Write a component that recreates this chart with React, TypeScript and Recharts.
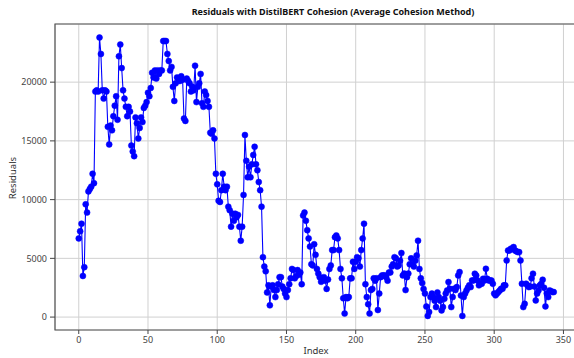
import { LineChart, Line, XAxis, YAxis, CartesianGrid, ReferenceArea } from "recharts";

// residual per row index
const residuals = [
  6700, 7300, 7950, 3500, 4250, 9600, 8900, 10700, 10900, 11100,
  12200, 11400, 19200, 19300, 19200, 23800, 22400, 19300, 18600, 19300,
  19200, 16200, 14700, 16300, 15900, 17100, 18000, 18800, 16800, 22200,
  23200, 21200, 19300, 18600, 17900, 17100, 17900, 17500, 14600, 14100,
  13700, 17000, 16500, 15200, 16100, 17000, 16600, 17800, 18000, 18300,
  19100, 18800, 19500, 20800, 20400, 21000, 20300, 21000, 20700, 21000,
  21000, 23500, 23500, 23500, 22400, 21800, 21000, 21300, 19600, 18400,
  19900, 20400, 20300, 20100, 20500, 20200, 16900, 16700, 20300, 20100,
  19900, 19200, 19600, 19300, 21400, 18300, 19600, 19900, 20700, 18200,
  17900, 19200, 18900, 18400, 17900, 15700, 15600, 15900, 15200, 12200,
  11300, 9900, 9800, 10800, 12200, 11100, 10800, 11100, 9400, 9100,
  7700, 8800, 8200, 8800, 8500, 8700, 7700, 6500, 7700, 10400,
  15500, 13300, 11900, 12800, 11900, 13000, 13800, 14500, 13000, 12500,
  11500, 10800, 9400, 5100, 4300, 3900, 2100, 2700, 1000, 2600,
  2700, 2300, 1700, 2300, 2800, 3400, 3400, 2600, 2400, 2000,
  1700, 2300, 2800, 3300, 4100, 4000, 3300, 3500, 4000, 3600,
  3800, 2800, 8650, 8900, 8200, 7400, 6700, 6000, 4500, 4400,
  6200, 5300, 4100, 3700, 3400, 3000, 3300, 3400, 3100, 2400,
  3200, 4100, 4400, 5700, 5700, 6800, 6950, 6700, 5700, 4100,
  3300, 1600, 300, 1700, 1600, 1700, 3300, 3300, 4700, 4100,
  4700, 5100, 5000, 4300, 5700, 6700, 7950, 2800, 1700, 1100,
  300, 2300, 2400, 3300, 3100, 3300, 600, 2000, 3400, 3550,
  3550, 3550, 3400, 3100, 3800, 3800, 4300, 4500, 5100, 5000,
  4300, 4400, 4800, 5450, 3550, 3700, 2300, 3400, 3700, 4500,
  5000, 4500, 4300, 4800, 5250, 6500, 4100, 3300, 2900, 2400,
  2000, 900, 100, 430, 1700, 2000, 1700, 1400, 850, 2100,
  1700, 1400, 570, 850, 1560, 2000, 2270, 2980, 2410, 850,
  1700, 2410, 2300, 2550, 3550, 3830, 1840, 100, 1700, 2000,
  2270, 2500, 2700, 2550, 3120, 3120, 3690, 3550, 3120, 2700,
  2840, 2840, 3260, 3120, 4110, 3260, 3120, 3120, 3120, 2840,
  2000, 1850, 2000, 2130, 2270, 2410, 2410, 2700, 2700, 4820,
  5670, 5670, 5820, 5820, 5960, 5670, 5600, 5530, 5530, 4820,
  2840, 850, 1130, 2840, 2700, 2550, 2600, 3300, 3690, 2600,
  1420, 2000, 2270, 2700, 2840, 3180, 2500, 910, 2000, 1700,
  2270, 2200, 2130, 2130,
];

const xTicks = [0, 50, 100, 150, 200, 250, 300, 350];
const yTicks = [0, 5000, 10000, 15000, 20000];

const X_DOMAIN: [number, number] = [-17.15, 360.15];
const Y_DOMAIN: [number, number] = [-1100, 24950];

const data = residuals.map((r, i) => ({ index: i, residual: r }));

const tickStyle = { fontSize: 9, fill: "#444", fontFamily: "'Noto Sans', sans-serif" };

export default function App() {
  return (
    <div
      style={{
        position: "absolute",
        left: 0,
        top: 0,
        width: 574,
        height: 358,
        overflow: "hidden",
        background: "#fff",
        fontFamily: "'Noto Sans', sans-serif",
      }}
    >
      <div
        style={{
          position: "absolute",
          left: 333,
          top: 5,
          fontSize: 9,
          fontWeight: 700,
          color: "#111",
          whiteSpace: "nowrap",
          lineHeight: "14px",
          transform: "translateX(-50%)",
        }}
      >
        Residuals with DistilBERT Cohesion (Average Cohesion Method)
      </div>
      <div
        style={{
          position: "absolute",
          left: 12,
          top: 178,
          fontSize: 9.5,
          color: "#333",
          whiteSpace: "nowrap",
          transform: "translate(-50%, -50%) rotate(-90deg)",
        }}
      >
        Residuals
      </div>
      <div
        style={{
          position: "absolute",
          left: 316,
          top: 345,
          fontSize: 9.5,
          color: "#333",
          transform: "translateX(-50%)",
          lineHeight: "12px",
        }}
      >
        Index
      </div>
      <LineChart width={580} height={358} data={data} margin={{ top: 24, right: 2.5, bottom: 0, left: 0 }}>
        <CartesianGrid stroke="#d0d0d0" strokeWidth={1} />
        <XAxis
          dataKey="index"
          type="number"
          domain={X_DOMAIN}
          ticks={xTicks}
          allowDataOverflow
          height={28}
          tick={tickStyle}
          tickSize={4}
          tickMargin={3}
          tickLine={{ stroke: "#444" }}
          axisLine={false}
        />
        <YAxis
          type="number"
          domain={Y_DOMAIN}
          ticks={yTicks}
          allowDataOverflow
          width={55}
          tick={tickStyle}
          tickSize={5}
          tickMargin={3}
          tickLine={{ stroke: "#444" }}
          axisLine={false}
        />
        <ReferenceArea
          x1={X_DOMAIN[0]}
          x2={X_DOMAIN[1]}
          y1={Y_DOMAIN[0]}
          y2={Y_DOMAIN[1]}
          fill="none"
          stroke="#555"
          strokeWidth={1.2}
          fillOpacity={0}
        />
        <Line
          type="linear"
          dataKey="residual"
          stroke="#0000ff"
          strokeWidth={1.1}
          dot={{ r: 3, fill: "#0000ff", stroke: "#0000ff", strokeWidth: 0.5 }}
          isAnimationActive={false}
        />
      </LineChart>
    </div>
  );
}
